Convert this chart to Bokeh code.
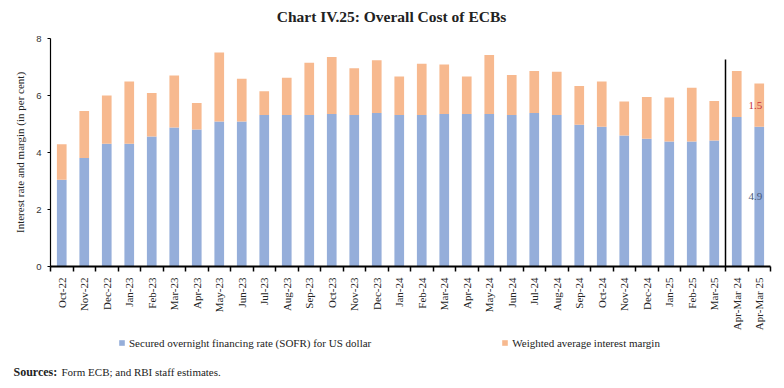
from bokeh.plotting import figure
from bokeh.models import Range1d, FixedTicker, Legend, LegendItem, ColumnDataSource, Label
from bokeh.layouts import column
from bokeh.core.properties import value
from bokeh.embed import file_html
from bokeh.resources import INLINE

# ---------------- data ----------------
categories = ["Oct-22", "Nov-22", "Dec-22", "Jan-23", "Feb-23", "Mar-23", "Apr-23", "May-23",
              "Jun-23", "Jul-23", "Aug-23", "Sep-23", "Oct-23", "Nov-23", "Dec-23", "Jan-24",
              "Feb-24", "Mar-24", "Apr-24", "May-24", "Jun-24", "Jul-24", "Aug-24", "Sep-24",
              "Oct-24", "Nov-24", "Dec-24", "Jan-25", "Feb-25", "Mar-25", "Apr-Mar 24", "Apr-Mar 25"]
sofr = [3.04, 3.81, 4.31, 4.31, 4.56, 4.88, 4.81, 5.09, 5.09, 5.32, 5.32, 5.32, 5.35, 5.32, 5.39, 5.32,
        5.32, 5.35, 5.35, 5.35, 5.32, 5.39, 5.32, 4.97, 4.90, 4.60, 4.48, 4.39, 4.39, 4.42, 5.25, 4.90]
margin = [1.25, 1.65, 1.69, 2.18, 1.53, 1.82, 0.93, 2.42, 1.50, 0.83, 1.30, 1.83, 2.00, 1.64, 1.85, 1.35,
          1.79, 1.74, 1.32, 2.07, 1.40, 1.47, 1.51, 1.36, 1.59, 1.19, 1.47, 1.54, 1.88, 1.39, 1.61, 1.52]
y_ticks = [0, 2, 4, 6, 8]
series_names = ["Secured overnight financing rate (SOFR) for US dollar", "Weighted average interest margin"]
title_text = "Chart IV.25: Overall Cost of ECBs"
y_label = "Interest rate and margin (in per cent)"
source_head = "Sources:"
source_body = "Form ECB; and RBI staff estimates."
n_monthly = 30  # monthly bars before the separator

# ---------------- styling ----------------
BLUE = "#95AEDA"
ORANGE = "#F7B98F"
SERIF = "Liberation Serif"
SANS = "Liberation Sans"
W = 775

# ---------- title strip (pixel coordinates) ----------
pt = figure(width=W, height=30, output_backend="svg", toolbar_location=None,
            x_range=Range1d(0, W), y_range=Range1d(0, 30), x_axis_type=None, y_axis_type=None,
            min_border=0, outline_line_color=None, frame_align=False)
pt.add_layout(Label(x=391, y=14, text=title_text, text_align="center", text_baseline="middle",
                    text_font=SERIF, text_font_style="bold", text_font_size="15.5px",
                    text_color="#222222"))

# ---------- main chart ----------
idx = list(range(len(categories)))
src = ColumnDataSource(dict(x=idx, sofr=sofr, margin=margin))

p = figure(width=W, height=304, output_backend="svg", toolbar_location=None,
           x_range=Range1d(-0.5, len(categories) - 0.5), y_range=Range1d(0, 8),
           min_border_left=50, min_border_right=5, min_border_top=8, min_border_bottom=68,
           frame_align=False)
p.outline_line_color = None
p.grid.visible = False

rs = p.vbar_stack(["sofr", "margin"], x="x", width=0.43, source=src,
                  color=[BLUE, ORANGE], line_color=None)

xa = p.xaxis[0]
xa.ticker = FixedTicker(ticks=idx, minor_ticks=[i - 0.5 for i in range(len(categories) + 1)])
xa.major_label_overrides = {i: c for i, c in zip(idx, categories)}
xa.major_label_orientation = 3.14159265 / 2
xa.major_tick_line_color = None
xa.major_tick_out = 0
xa.major_tick_in = 0
xa.minor_tick_line_color = "black"
xa.minor_tick_out = 5
xa.minor_tick_in = 0
xa.minor_tick_line_width = 1.5
xa.axis_line_color = "black"
xa.axis_line_width = 2
xa.major_label_standoff = 6
xa.major_label_text_font = SERIF
xa.major_label_text_font_size = "11px"
xa.major_label_text_color = "#222222"

ya = p.yaxis[0]
ya.ticker = FixedTicker(ticks=y_ticks, minor_ticks=[])
ya.major_tick_out = 3
ya.major_tick_in = 0
ya.major_tick_line_color = "black"
ya.minor_tick_line_color = None
ya.axis_line_color = "black"
ya.axis_line_width = 1.2
ya.major_label_standoff = 6
ya.major_label_text_font = SANS
ya.major_label_text_font_size = "9.5px"
ya.major_label_text_color = "#333333"
ya.axis_label = y_label
ya.axis_label_text_font = SERIF
ya.axis_label_text_font_style = "normal"
ya.axis_label_text_font_size = "11px"
ya.axis_label_text_color = "#222222"
ya.axis_label_standoff = 7

last = len(categories) - 1
lab_src = ColumnDataSource(dict(
    x=[last, last],
    y=[sofr[last] / 2, sofr[last] + margin[last] / 2],
    t=[f"{sofr[last]:.1f}", f"{margin[last]:.1f}"],
    c=["#4A5A7A", "#C8323C"]))
p.text(x="x", y="y", text="t", source=lab_src, text_color="c", text_align="center",
       text_baseline="middle", x_offset=-4, text_font=value(SERIF), text_font_size="11px")

# separator between monthly and annual bars
p.segment(x0=[n_monthly - 0.5], y0=[7.26], x1=[n_monthly - 0.5], y1=[0],
          line_color="black", line_width=1.5)

# ---------- legend + sources strip (pixel coordinates) ----------
pb = figure(width=W, height=46, output_backend="svg", toolbar_location=None,
            x_range=Range1d(0, W), y_range=Range1d(0, 46), x_axis_type=None, y_axis_type=None,
            min_border=0, outline_line_color=None, frame_align=False)
# hidden copies of the two series, used only to draw the legend swatches
sw1 = pb.vbar(x="x", top="sofr", width=0.43, source=src, color=BLUE, line_color=None, visible=False)
sw2 = pb.vbar(x="x", top="margin", width=0.43, source=src, color=ORANGE, line_color=None, visible=False)
lg = Legend(items=[LegendItem(label=series_names[0], renderers=[sw1]),
                   LegendItem(label=series_names[1], renderers=[sw2])],
            location=(118, 31), orientation="horizontal", glyph_width=7, glyph_height=7,
            label_standoff=4, label_height=13, padding=0, margin=0, spacing=130,
            label_text_font=SERIF, label_text_font_size="11px", label_text_color="#222222",
            background_fill_alpha=0, border_line_color=None, inactive_fill_alpha=0)
pb.add_layout(lg, "center")
pb.add_layout(Label(x=13, y=9, text=source_head, text_align="left", text_baseline="middle",
                    text_font=SERIF, text_font_style="bold", text_font_size="12px",
                    text_color="#222222"))
pb.add_layout(Label(x=61, y=9, text=source_body, text_align="left", text_baseline="middle",
                    text_font=SERIF, text_font_size="11px", text_color="#222222"))

layout = column(pt, p, pb, spacing=0)
open("out.html", "w").write(file_html(layout, INLINE))
